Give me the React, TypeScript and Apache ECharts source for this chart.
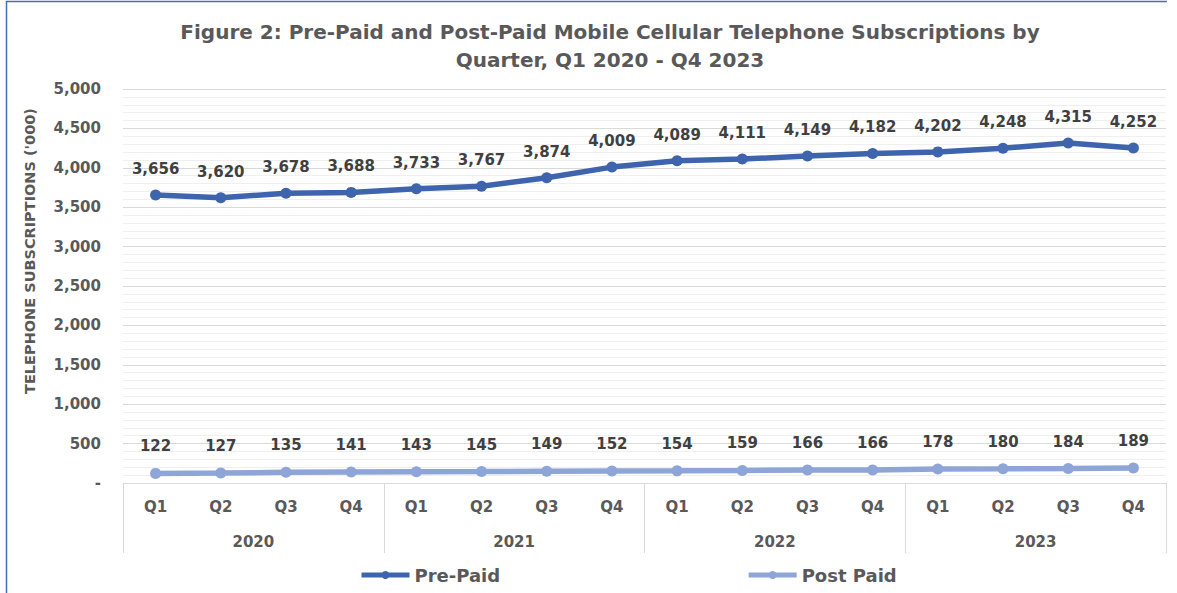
import React, { useEffect, useRef } from "react";
import * as echarts from "echarts";

const quarters = ["Q1", "Q2", "Q3", "Q4", "Q1", "Q2", "Q3", "Q4", "Q1", "Q2", "Q3", "Q4", "Q1", "Q2", "Q3", "Q4"];
const years = ["2020", "2021", "2022", "2023"];
const prePaid = [3656, 3620, 3678, 3688, 3733, 3767, 3874, 4009, 4089, 4111, 4149, 4182, 4202, 4248, 4315, 4252];
const postPaid = [122, 127, 135, 141, 143, 145, 149, 152, 154, 159, 166, 166, 178, 180, 184, 189];

const FONT = "DejaVu Sans";
const GRAY = "#595959";
const LABEL = "#404040";

export default function App() {
  const ref = useRef<HTMLDivElement>(null);
  useEffect(() => {
    document.body.style.margin = "0";
    const chart = echarts.init(ref.current!, null, { renderer: "svg" });
    const fmt = (v: number) => (v === 0 ? "-" : v.toLocaleString("en-US"));
    chart.setOption({
      animation: false,
      backgroundColor: "#ffffff",
      textStyle: { fontFamily: FONT },
      title: {
        text: "Figure 2: Pre-Paid and Post-Paid Mobile Cellular Telephone Subscriptions by\nQuarter, Q1 2020 - Q4 2023",
        left: 605,
        textAlign: "center",
        top: 13,
        textStyle: { fontFamily: FONT, fontSize: 20, fontWeight: "bold", color: GRAY, lineHeight: 28 },
      },
      legend: {
        left: 354,
        top: 561,
        itemWidth: 48,
        itemHeight: 10,
        itemGap: 246,
        lineStyle: { width: 5 },
        textStyle: { fontFamily: FONT, fontSize: 18, fontWeight: "bold", color: GRAY },
        data: ["Pre-Paid", "Post Paid"],
      },
      graphic: [
        {
          type: "polyline",
          shape: { points: [[6.5, 593], [6.5, 1.5], [1167, 1.5]] },
          style: { stroke: "#4A6DB8", lineWidth: 1.5, fill: "none" },
        },
        {
          type: "text",
          x: 30,
          y: 251,
          rotation: Math.PI / 2,
          style: {
            text: "TELEPHONE SUBSCRIPTIONS ('000)",
            font: `bold 14.5px "${FONT}"`,
            fill: GRAY,
            align: "center",
            verticalAlign: "middle",
          },
        },
      ],
      grid: { left: 123, right: 11, top: 89, bottom: 110 },
      xAxis: [
        {
          type: "category",
          data: quarters,
          position: "bottom",
          axisLine: { show: true, lineStyle: { color: "#D9D9D9", width: 1 } },
          axisTick: { show: false },
          axisLabel: { color: GRAY, fontFamily: FONT, fontSize: 15, fontWeight: "bold", margin: 16 },
        },
        {
          type: "category",
          data: years,
          position: "bottom",
          axisLine: { show: false },
          axisTick: { show: true, length: 70, lineStyle: { color: "#D9D9D9", width: 1 } },
          axisLabel: { color: GRAY, fontFamily: FONT, fontSize: 15, fontWeight: "bold", margin: 51 },
        },
      ],
      yAxis: {
        type: "value",
        min: 0,
        max: 5000,
        interval: 500,
        axisLine: { show: false },
        axisTick: { show: false },
        axisLabel: { formatter: fmt, color: GRAY, fontFamily: FONT, fontSize: 15, fontWeight: "bold", margin: 22 },
        splitLine: { show: true, lineStyle: { color: "#D9D9D9", width: 1 } },
        minorTick: { show: false, splitNumber: 5 },
        minorSplitLine: { show: true, lineStyle: { color: "#EFEFEF", width: 1 } },
      },
      series: [
        {
          name: "Pre-Paid",
          type: "line",
          data: prePaid,
          xAxisIndex: 0,
          color: "#3E64AE",
          symbol: "circle",
          symbolSize: 11,
          lineStyle: { width: 5.5, color: "#3E64AE" },
          itemStyle: { color: "#3E64AE" },
          label: {
            show: true,
            position: "top",
            distance: 13,
            formatter: (p: any) => p.value.toLocaleString("en-US"),
            color: LABEL,
            fontFamily: FONT,
            fontSize: 15,
            fontWeight: "bold",
          },
        },
        {
          name: "Post Paid",
          type: "line",
          data: postPaid,
          xAxisIndex: 0,
          color: "#8EA5D8",
          symbol: "circle",
          symbolSize: 11,
          lineStyle: { width: 5.5, color: "#8EA5D8" },
          itemStyle: { color: "#8EA5D8" },
          label: {
            show: true,
            position: "top",
            distance: 14,
            formatter: (p: any) => p.value.toLocaleString("en-US"),
            color: LABEL,
            fontFamily: FONT,
            fontSize: 15,
            fontWeight: "bold",
          },
        },
      ],
    });
    return () => chart.dispose();
  }, []);
  return <div ref={ref} style={{ width: 1177, height: 593 }} />;
}
